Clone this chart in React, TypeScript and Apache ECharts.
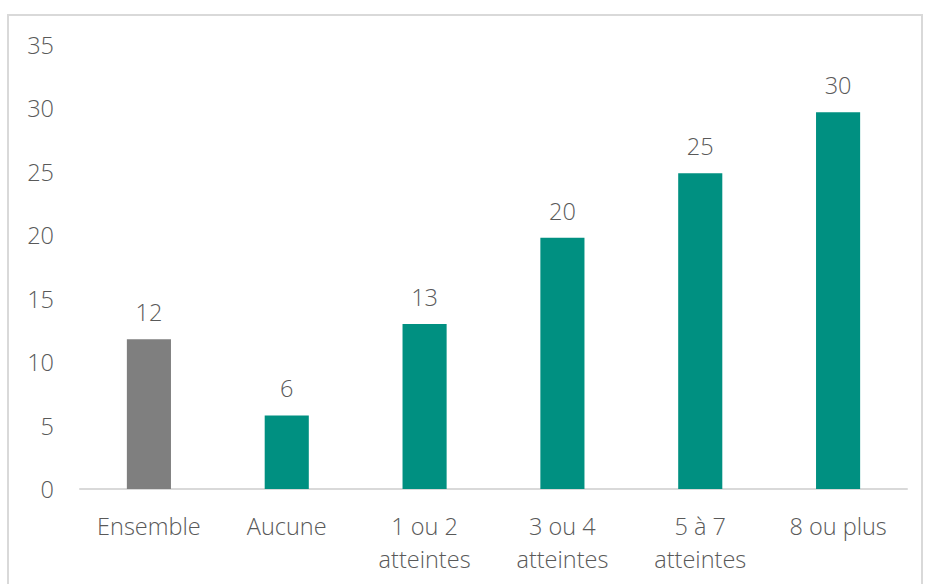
import React, { useEffect, useRef } from "react";
import * as echarts from "echarts";

const categories = ["Ensemble", "Aucune", "1 ou 2\natteintes", "3 ou 4\natteintes", "5 à 7\natteintes", "8 ou plus"];
const values = [11.8, 5.8, 13.0, 19.8, 24.9, 29.7];
const labels = ["12", "6", "13", "20", "25", "30"];
const barColors = ["#7f7f7f", "#009081", "#009081", "#009081", "#009081", "#009081"];

export default function App() {
  const ref = useRef<HTMLDivElement>(null);
  useEffect(() => {
    document.body.style.margin = "0";
    const chart = echarts.init(ref.current!, null, { renderer: "svg" });
    const font = "'Open Sans', sans-serif";
    const fw = 300;
    const fs = 23.5;
    chart.setOption({
      animation: false,
      textStyle: { fontFamily: font },
      graphic: [
        {
          type: "rect",
          shape: { x: 8, y: 15, width: 914, height: 600 },
          style: { fill: "none", stroke: "#d9d9d9", lineWidth: 2 },
          silent: true,
        },
      ],
      grid: { left: 80, right: 18, top: 45, bottom: 95 },
      xAxis: {
        type: "category",
        data: categories,
        axisLine: { lineStyle: { color: "#d9d9d9", width: 2 } },
        axisTick: { show: false },
        axisLabel: { color: "#595959", fontSize: fs, fontWeight: fw, lineHeight: 33, margin: 20, fontFamily: font, interval: 0 },
      },
      yAxis: {
        type: "value",
        min: 0,
        max: 35,
        interval: 5,
        splitLine: { show: false },
        axisLine: { show: false },
        axisTick: { show: false },
        axisLabel: { color: "#595959", fontSize: fs, fontWeight: fw, margin: 26, fontFamily: font },
      },
      series: [
        {
          type: "bar",
          barWidth: "32%",
          data: values.map((v, i) => ({ value: v, itemStyle: { color: barColors[i] } })),
          label: {
            show: true,
            position: "top",
            distance: 15,
            color: "#595959",
            fontSize: fs,
            fontWeight: fw,
            fontFamily: font,
            formatter: (p: any) => labels[p.dataIndex],
          },
        },
      ],
    });
    return () => chart.dispose();
  }, []);
  return <div ref={ref} style={{ width: 925, height: 584 }} />;
}
